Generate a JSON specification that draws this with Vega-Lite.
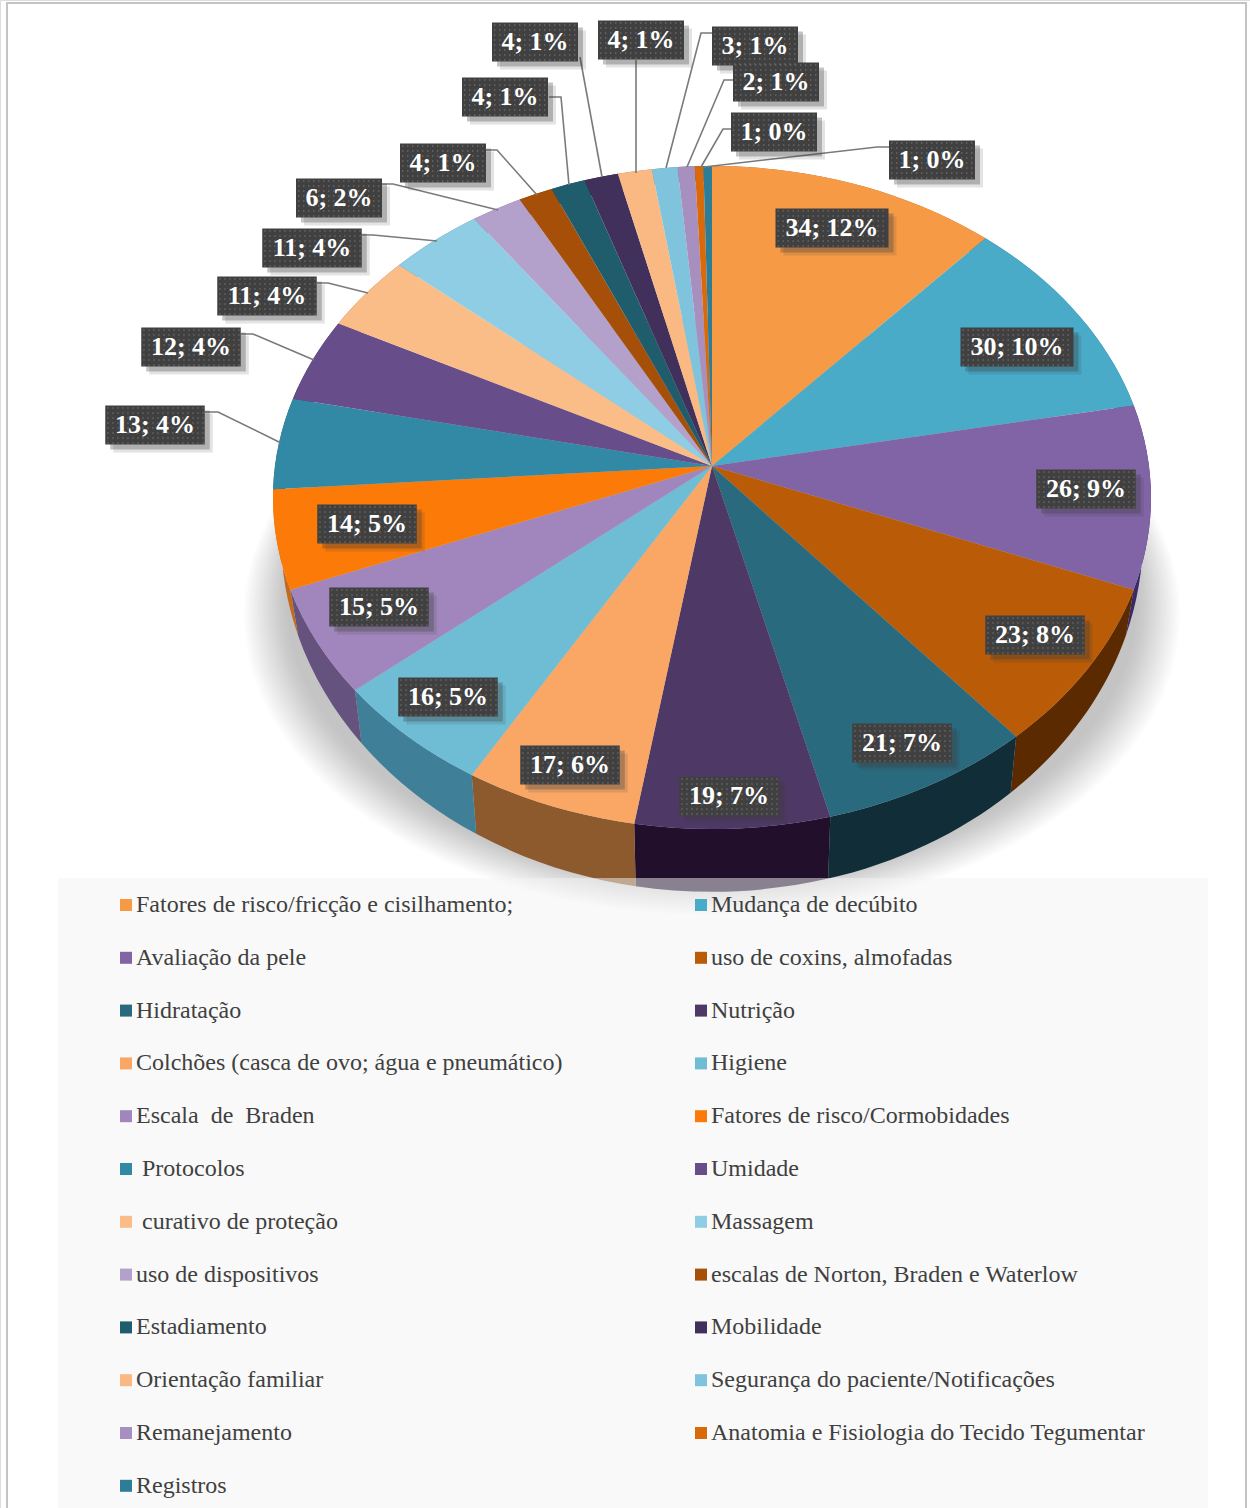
{
  "$schema": "https://vega.github.io/schema/vega-lite/v6.json",
  "width": 1250,
  "height": 1508,
  "padding": 0,
  "autosize": {"type": "none"},
  "background": "white",
  "params": [
    {"name": "cx", "value": 712},
    {"name": "cy", "value": 466},
    {"name": "q", "value": 0.095},
    {"name": "topW", "value": 437},
    {"name": "topH", "value": 328.5},
    {"name": "topRx", "value": 439},
    {"name": "topRy", "value": 331.5},
    {"name": "botW", "value": 429},
    {"name": "botH", "value": 352},
    {"name": "botDy", "value": 36.8},
    {"name": "botRx", "value": 431},
    {"name": "botRy", "value": 355}
  ],
  "datasets": {
    "slices": [
      {"rank": 1, "category": "Fatores de risco/fricção e cisilhamento;", "value": 34, "percent": 12, "labelX": 832, "labelY": 228},
      {"rank": 2, "category": "Mudança de decúbito", "value": 30, "percent": 10, "labelX": 1017, "labelY": 347},
      {"rank": 3, "category": "Avaliação da pele", "value": 26, "percent": 9, "labelX": 1086, "labelY": 489},
      {"rank": 4, "category": "uso de coxins, almofadas", "value": 23, "percent": 8, "labelX": 1035, "labelY": 635},
      {"rank": 5, "category": "Hidratação", "value": 21, "percent": 7, "labelX": 902, "labelY": 743},
      {"rank": 6, "category": "Nutrição", "value": 19, "percent": 7, "labelX": 729, "labelY": 796},
      {"rank": 7, "category": "Colchões (casca de ovo; água e pneumático)", "value": 17, "percent": 6, "labelX": 570, "labelY": 765},
      {"rank": 8, "category": "Higiene", "value": 16, "percent": 5, "labelX": 448, "labelY": 697},
      {"rank": 9, "category": "Escala\u00a0\u00a0de\u00a0\u00a0Braden", "value": 15, "percent": 5, "labelX": 379, "labelY": 607},
      {"rank": 10, "category": "Fatores de risco/Cormobidades", "value": 14, "percent": 5, "labelX": 367, "labelY": 524},
      {"rank": 11, "category": "\u200b\u00a0Protocolos", "value": 13, "percent": 4, "labelX": 155, "labelY": 425},
      {"rank": 12, "category": "Umidade", "value": 12, "percent": 4, "labelX": 191, "labelY": 347},
      {"rank": 13, "category": "\u200b\u00a0curativo de proteção", "value": 11, "percent": 4, "labelX": 267, "labelY": 296},
      {"rank": 14, "category": "Massagem", "value": 11, "percent": 4, "labelX": 312, "labelY": 248},
      {"rank": 15, "category": "uso de dispositivos", "value": 6, "percent": 2, "labelX": 339, "labelY": 198},
      {"rank": 16, "category": "escalas de Norton, Braden e Waterlow", "value": 4, "percent": 1, "labelX": 443, "labelY": 163},
      {"rank": 17, "category": "Estadiamento", "value": 4, "percent": 1, "labelX": 505, "labelY": 97},
      {"rank": 18, "category": "Mobilidade", "value": 4, "percent": 1, "labelX": 535, "labelY": 42},
      {"rank": 19, "category": "Orientação familiar", "value": 4, "percent": 1, "labelX": 641, "labelY": 40},
      {"rank": 20, "category": "Segurança do paciente/Notificações", "value": 3, "percent": 1, "labelX": 755, "labelY": 46},
      {"rank": 21, "category": "Remanejamento", "value": 2, "percent": 1, "labelX": 776, "labelY": 82},
      {"rank": 22, "category": "Anatomia e Fisiologia do Tecido Tegumentar", "value": 1, "percent": 0, "labelX": 774, "labelY": 132},
      {"rank": 23, "category": "Registros", "value": 1, "percent": 0, "labelX": 932, "labelY": 160}
    ],
    "leaders": [
      {"category": "Protocolos", "step": 1, "x": 205, "y": 412}, {"category": "Protocolos", "step": 2, "x": 218, "y": 412}, {"category": "Protocolos", "step": 3, "x": 281, "y": 443},
      {"category": "Umidade", "step": 1, "x": 241, "y": 334}, {"category": "Umidade", "step": 2, "x": 253, "y": 334}, {"category": "Umidade", "step": 3, "x": 314, "y": 360},
      {"category": "curativo de proteção", "step": 1, "x": 317, "y": 283}, {"category": "curativo de proteção", "step": 2, "x": 328, "y": 283}, {"category": "curativo de proteção", "step": 3, "x": 368, "y": 293},
      {"category": "Massagem", "step": 1, "x": 362, "y": 235}, {"category": "Massagem", "step": 2, "x": 373, "y": 235}, {"category": "Massagem", "step": 3, "x": 437, "y": 241},
      {"category": "uso de dispositivos", "step": 1, "x": 382, "y": 184}, {"category": "uso de dispositivos", "step": 2, "x": 393, "y": 184}, {"category": "uso de dispositivos", "step": 3, "x": 498, "y": 210},
      {"category": "escalas de Norton, Braden e Waterlow", "step": 1, "x": 486, "y": 150}, {"category": "escalas de Norton, Braden e Waterlow", "step": 2, "x": 497, "y": 150}, {"category": "escalas de Norton, Braden e Waterlow", "step": 3, "x": 537, "y": 195},
      {"category": "Estadiamento", "step": 1, "x": 549, "y": 97}, {"category": "Estadiamento", "step": 2, "x": 561, "y": 97}, {"category": "Estadiamento", "step": 3, "x": 569, "y": 185},
      {"category": "Mobilidade", "step": 1, "x": 580, "y": 57}, {"category": "Mobilidade", "step": 2, "x": 602, "y": 177},
      {"category": "Orientação familiar", "step": 1, "x": 636, "y": 60}, {"category": "Orientação familiar", "step": 2, "x": 636, "y": 173},
      {"category": "Segurança do paciente/Notificações", "step": 1, "x": 712, "y": 33}, {"category": "Segurança do paciente/Notificações", "step": 2, "x": 701, "y": 33}, {"category": "Segurança do paciente/Notificações", "step": 3, "x": 666, "y": 168},
      {"category": "Remanejamento", "step": 1, "x": 735, "y": 80}, {"category": "Remanejamento", "step": 2, "x": 724, "y": 80}, {"category": "Remanejamento", "step": 3, "x": 687, "y": 167},
      {"category": "Anatomia e Fisiologia do Tecido Tegumentar", "step": 1, "x": 733, "y": 129}, {"category": "Anatomia e Fisiologia do Tecido Tegumentar", "step": 2, "x": 723, "y": 129}, {"category": "Anatomia e Fisiologia do Tecido Tegumentar", "step": 3, "x": 701, "y": 167},
      {"category": "Registros", "step": 1, "x": 889, "y": 147}, {"category": "Registros", "step": 2, "x": 877, "y": 147}, {"category": "Registros", "step": 3, "x": 704, "y": 167}
    ],
    "shadowRings": [
      {"spread": 0.0}, {"spread": 0.05}, {"spread": 0.1}, {"spread": 0.15}, {"spread": 0.2}, {"spread": 0.25}, {"spread": 0.3}, {"spread": 0.35}, {"spread": 0.4}, {"spread": 0.45},
      {"spread": 0.5}, {"spread": 0.55}, {"spread": 0.6}, {"spread": 0.65}, {"spread": 0.7}, {"spread": 0.75}, {"spread": 0.8}, {"spread": 0.85}, {"spread": 0.9}, {"spread": 0.95}, {"spread": 1.0}
    ]
  },
  "data": {"name": "slices"},
  "transform": [
    {"window": [{"op": "sum", "field": "value", "as": "end"}], "sort": [{"field": "rank", "order": "ascending"}]},
    {"joinaggregate": [{"op": "sum", "field": "value", "as": "total"}]},
    {"calculate": "2*PI*(datum.end-datum.value)/datum.total", "as": "a0"},
    {"calculate": "2*PI*datum.end/datum.total", "as": "a1"},
    {"calculate": "round(100*topW*sin(datum.a0)/(1+q*cos(datum.a0)))/100+','+round(-100*topH*cos(datum.a0)/(1+q*cos(datum.a0)))/100", "as": "top0"},
    {"calculate": "round(100*topW*sin(datum.a1)/(1+q*cos(datum.a1)))/100+','+round(-100*topH*cos(datum.a1)/(1+q*cos(datum.a1)))/100", "as": "top1"},
    {"calculate": "round(100*botW*sin(datum.a0)/(1+q*cos(datum.a0)))/100+','+round(100*(botDy-botH*cos(datum.a0)/(1+q*cos(datum.a0))))/100", "as": "bot0"},
    {"calculate": "round(100*botW*sin(datum.a1)/(1+q*cos(datum.a1)))/100+','+round(100*(botDy-botH*cos(datum.a1)/(1+q*cos(datum.a1))))/100", "as": "bot1"},
    {"calculate": "'M0,0L'+datum.top0+'A'+topRx+','+topRy+',0,0,1,'+datum.top1+'Z'", "as": "topPath"},
    {"calculate": "'M'+datum.top0+'A'+topRx+','+topRy+',0,0,1,'+datum.top1+'L'+datum.bot1+'A'+botRx+','+botRy+',0,0,0,'+datum.bot0+'Z'", "as": "sidePath"},
    {"calculate": "datum.value+'; '+datum.percent+'%'", "as": "label"},
    {"calculate": "(18.5+13.5*length(datum.label))/2", "as": "halfWidth"}
  ],
  "encoding": {
    "x": {"field": "px", "type": "quantitative", "axis": null, "scale": {"domain": [0, 1250], "nice": false, "zero": false}},
    "y": {"field": "py", "type": "quantitative", "axis": null, "scale": {"domain": [1508, 0], "nice": false, "zero": false}}
  },
  "layer": [
    {
      "data": {"values": [{"panel": "frame"}]},
      "transform": [
        {"calculate": "7", "as": "px"}, {"calculate": "1246", "as": "px2"},
        {"calculate": "3", "as": "py"}, {"calculate": "1540", "as": "py2"}
      ],
      "mark": {"type": "rect", "fill": "white", "stroke": "#c4c4c4", "strokeWidth": 2, "clip": false},
      "encoding": {"x2": {"field": "px2"}, "y2": {"field": "py2"}}
    },
    {
      "data": {"name": "shadowRings"},
      "transform": [
        {"calculate": "cx", "as": "px"}, {"calculate": "cy", "as": "py"},
        {"calculate": "425+43*datum.spread", "as": "rx"},
        {"calculate": "280+20*datum.spread", "as": "ry"},
        {"calculate": "134+15*datum.spread", "as": "dy"},
        {"calculate": "'M'+(-datum.rx)+','+datum.dy+'A'+datum.rx+','+datum.ry+',0,1,1,'+datum.rx+','+datum.dy+'A'+datum.rx+','+datum.ry+',0,1,1,'+(-datum.rx)+','+datum.dy+'Z'", "as": "ringPath"}
      ],
      "mark": {"type": "point", "filled": true, "fill": "#707074", "opacity": 0.021, "size": 4},
      "encoding": {"shape": {"field": "ringPath", "type": "nominal", "scale": null, "legend": null}}
    },
    {
      "transform": [{"calculate": "cx", "as": "px"}, {"calculate": "cy", "as": "py"}],
      "mark": {"type": "point", "filled": true, "opacity": 1, "size": 4},
      "encoding": {
        "shape": {"field": "sidePath", "type": "nominal", "scale": null, "legend": null},
        "fill": {
          "field": "rank", "type": "ordinal", "legend": null,
          "scale": {
            "domain": [1, 2, 3, 4, 5, 6, 7, 8, 9, 10, 11, 12, 13, 14, 15, 16, 17, 18, 19, 20, 21, 22, 23],
            "range": ["#A8642C", "#2F7186", "#3A2A66", "#5C2A00", "#112D38", "#210F2C", "#8D5A2E", "#3F7F97", "#66527F", "#C46A1C", "#205F70", "#46355A", "#A87C58", "#5F8FA0", "#7A6C8C", "#6A3205", "#143E4A", "#2B2138", "#A87C58", "#5F8FA0", "#7A6C8C", "#9C4A08", "#205F70"]
          }
        }
      }
    },
    {
      "transform": [{"calculate": "cx", "as": "px"}, {"calculate": "cy", "as": "py"}],
      "mark": {"type": "point", "filled": true, "opacity": 1, "size": 4},
      "encoding": {
        "shape": {"field": "topPath", "type": "nominal", "scale": null, "legend": null},
        "color": {
          "field": "category", "type": "nominal",
          "scale": {
            "domain": ["Fatores de risco/fricção e cisilhamento;", "Mudança de decúbito", "Avaliação da pele", "uso de coxins, almofadas", "Hidratação", "Nutrição", "Colchões (casca de ovo; água e pneumático)", "Higiene", "Escala\u00a0\u00a0de\u00a0\u00a0Braden", "Fatores de risco/Cormobidades", "\u200b\u00a0Protocolos", "Umidade", "\u200b\u00a0curativo de proteção", "Massagem", "uso de dispositivos", "escalas de Norton, Braden e Waterlow", "Estadiamento", "Mobilidade", "Orientação familiar", "Segurança do paciente/Notificações", "Remanejamento", "Anatomia e Fisiologia do Tecido Tegumentar", "Registros"],
            "range": ["#F79A45", "#49ABC8", "#8064A6", "#BA5B07", "#2A6A7E", "#4E3866", "#FAA766", "#6EBDD4", "#A086BC", "#FC7A08", "#3289A5", "#674E8B", "#FBBD88", "#8ECDE3", "#B3A0CB", "#A64F08", "#1F5D6D", "#41305C", "#FAB882", "#7FC4DC", "#A78FC0", "#D96A0C", "#2E7D96"]
          },
          "legend": {
            "orient": "none",
            "legendX": 114,
            "legendY": 893,
            "padding": 0,
            "direction": "horizontal",
            "columns": 2,
            "columnPadding": 126,
            "rowPadding": 28.8,
            "title": null,
            "symbolType": "square",
            "symbolSize": 144,
            "symbolStrokeWidth": 0,
            "labelFont": "Liberation Serif",
            "labelFontSize": 24,
            "labelColor": "#404040",
            "labelOffset": -2,
            "labelLimit": 600,
            "zindex": 2
          }
        }
      }
    },
    {
      "data": {"values": [{"panel": "legend"}]},
      "transform": [
        {"calculate": "58", "as": "px"}, {"calculate": "1208", "as": "px2"},
        {"calculate": "878", "as": "py"}, {"calculate": "1508", "as": "py2"}
      ],
      "mark": {"type": "rect", "fill": "#f4f4f4", "opacity": 0.5},
      "encoding": {"x2": {"field": "px2"}, "y2": {"field": "py2"}}
    },
    {
      "data": {"name": "leaders"},
      "transform": [{"calculate": "datum.x", "as": "px"}, {"calculate": "datum.y", "as": "py"}],
      "mark": {"type": "line", "stroke": "#7a7a7a", "strokeWidth": 1.6, "interpolate": "linear"},
      "encoding": {"detail": {"field": "category"}, "order": {"field": "step", "type": "quantitative"}}
    },
    {
      "transform": [
        {"calculate": "datum.labelX-datum.halfWidth+8", "as": "px"}, {"calculate": "datum.labelX+datum.halfWidth+8", "as": "px2"},
        {"calculate": "datum.labelY-19.5+8", "as": "py"}, {"calculate": "datum.labelY+19.5+8", "as": "py2"}
      ],
      "mark": {"type": "rect", "fill": "#3a3a3a", "opacity": 0.14},
      "encoding": {"x2": {"field": "px2"}, "y2": {"field": "py2"}}
    },
    {
      "transform": [
        {"calculate": "datum.labelX-datum.halfWidth+5", "as": "px"}, {"calculate": "datum.labelX+datum.halfWidth+5", "as": "px2"},
        {"calculate": "datum.labelY-19.5+5", "as": "py"}, {"calculate": "datum.labelY+19.5+5", "as": "py2"}
      ],
      "mark": {"type": "rect", "fill": "#3a3a3a", "opacity": 0.3},
      "encoding": {"x2": {"field": "px2"}, "y2": {"field": "py2"}}
    },
    {
      "transform": [
        {"calculate": "datum.labelX-datum.halfWidth", "as": "px"}, {"calculate": "datum.labelX+datum.halfWidth", "as": "px2"},
        {"calculate": "datum.labelY-19.5", "as": "py"}, {"calculate": "datum.labelY+19.5", "as": "py2"}
      ],
      "mark": {"type": "rect", "fill": "#404040"},
      "encoding": {"x2": {"field": "px2"}, "y2": {"field": "py2"}}
    },
    {
      "transform": [
        {"calculate": "[-17,-12,-7,-2,3,8,13,18]", "as": "dotRow"},
        {"flatten": ["dotRow"]},
        {"calculate": "datum.labelX-datum.halfWidth+2", "as": "px"}, {"calculate": "datum.labelX+datum.halfWidth-1", "as": "px2"},
        {"calculate": "datum.labelY+datum.dotRow", "as": "py"}
      ],
      "mark": {"type": "rule", "stroke": "#686868", "strokeWidth": 1.4, "strokeDash": [1.4, 3.6]},
      "encoding": {"x2": {"field": "px2"}}
    },
    {
      "transform": [{"calculate": "datum.labelX", "as": "px"}, {"calculate": "datum.labelY", "as": "py"}],
      "mark": {"type": "text", "font": "Liberation Serif", "fontWeight": "bold", "fontSize": 26, "fill": "white", "align": "center", "baseline": "middle"},
      "encoding": {"text": {"field": "label"}}
    }
  ]
}
